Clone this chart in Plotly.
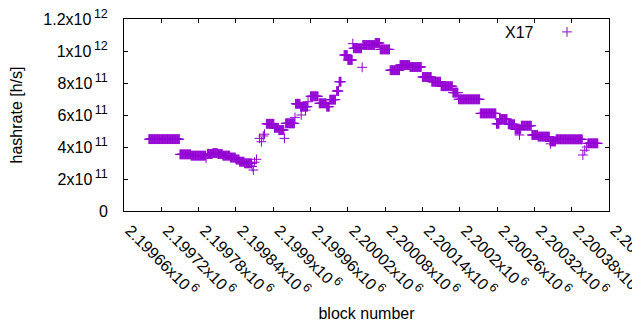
import plotly.graph_objects as go

# Plateaus of the hashrate: first block, last block, hashrate [h/s]
seg_first = [2199700, 2199750, 2199768, 2199794, 2199803, 2199811, 2199819, 2199831,
             2199840, 2199846, 2199854, 2199889, 2199902, 2199909, 2199920, 2199936,
             2199944, 2199960, 2199974, 2199986, 2199991, 2200002, 2200006, 2200014,
             2200020, 2200029, 2200044, 2200064, 2200072, 2200088, 2200104, 2200120,
             2200140, 2200155, 2200170, 2200189, 2200198, 2200233, 2200259, 2200264,
             2200278, 2200289, 2200299, 2200316, 2200326, 2200345, 2200355, 2200406]
seg_last = [2199749, 2199767, 2199791, 2199802, 2199810, 2199818, 2199830, 2199839,
            2199845, 2199853, 2199865, 2199901, 2199908, 2199917, 2199934, 2199943,
            2199955, 2199972, 2199985, 2199990, 2200000, 2200005, 2200009, 2200019,
            2200027, 2200042, 2200063, 2200071, 2200087, 2200103, 2200119, 2200138,
            2200154, 2200169, 2200188, 2200197, 2200232, 2200258, 2200263, 2200276,
            2200288, 2200298, 2200315, 2200325, 2200344, 2200354, 2200397, 2200422]
seg_rate = [4.49e11, 3.54e11, 3.46e11, 3.57e11, 3.62e11, 3.56e11, 3.46e11, 3.34e11,
            3.22e11, 3.08e11, 2.98e11, 5.45e11, 5.20e11, 5.06e11, 5.48e11, 6.70e11,
            6.52e11, 7.17e11, 6.73e11, 6.52e11, 6.96e11, 7.50e11, 8.08e11, 9.75e11,
            9.44e11, 1.017e12, 1.0375e12, 1.05e12, 1.01e12, 8.80e11, 9.125e11, 9.00e11,
            8.375e11, 8.08e11, 7.80e11, 7.40e11, 6.98e11, 6.10e11, 5.45e11, 5.75e11,
            5.42e11, 5.10e11, 5.33e11, 4.75e11, 4.65e11, 4.35e11, 4.48e11, 4.23e11]

# Isolated blocks
single_block = [2199792, 2199866, 2199868, 2199870, 2199873, 2199878, 2199881, 2199884,
                2199886, 2199918, 2199935, 2199945, 2199952, 2199956, 2200028, 2200043,
                2200296, 2200346, 2200398, 2200401, 2200404]
single_rate = [3.30e11, 2.78e11, 2.56e11, 3.05e11, 3.23e11, 4.54e11, 4.33e11, 4.69e11,
               4.80e11, 4.54e11, 5.85e11, 6.00e11, 6.30e11, 6.83e11, 1.046e12, 8.98e11,
               4.75e11, 4.20e11, 3.50e11, 3.80e11, 4.00e11]

SUP = "<sup><span style='font-size:12.5px'>\u2009{}</span></sup>"
x_tick_vals = [2199660, 2199720, 2199780, 2199840, 2199900, 2199960, 2200020,
               2200080, 2200140, 2200200, 2200260, 2200320, 2200380, 2200440]
x_tick_mant = ["2.19966", "2.19972", "2.19978", "2.19984", "2.1999", "2.19996", "2.20002",
               "2.20008", "2.20014", "2.2002", "2.20026", "2.20032", "2.20038", "2.20044"]
x_tick_text = [m + "x10" + SUP.format("6") for m in x_tick_mant]
y_tick_vals = [0, 2e11, 4e11, 6e11, 8e11, 1e12, 1.2e12]
y_tick_text = ["0", "2x10" + SUP.format("11"), "4x10" + SUP.format("11"),
               "6x10" + SUP.format("11"), "8x10" + SUP.format("11"),
               "1x10" + SUP.format("12"), "1.2x10" + SUP.format("12")]

pts = []
for a, b, v in zip(seg_first, seg_last, seg_rate):
    for blk in range(a, b + 1):
        pts.append((blk, v))
pts += list(zip(single_block, single_rate))
pts.sort()
xs = [p[0] for p in pts]
ys = [p[1] for p in pts]

COLOR = "#9400d3"
FONT = "Liberation Sans"

fig = go.Figure()
fig.add_trace(go.Scatter(
    x=xs, y=ys, mode="markers", name="X17", showlegend=False,
    marker=dict(symbol="cross-thin", size=7, line=dict(width=1, color=COLOR), color=COLOR),
))
# legend sample
fig.add_trace(go.Scatter(
    x=[None], y=[None], mode="markers", name="", showlegend=True,
    marker=dict(symbol="cross-thin", size=7, line=dict(width=1, color=COLOR), color=COLOR),
))

axis_common = dict(
    showline=True, linecolor="black", linewidth=1, mirror="ticks",
    ticks="inside", ticklen=4, tickcolor="black", showgrid=False, zeroline=False,
    automargin=False, ticklabeloverflow="allow",
    tickfont=dict(family=FONT, size=16, color="black"),
)
fig.update_xaxes(range=[2199660, 2200440], tickmode="array", tickvals=x_tick_vals,
                 ticktext=x_tick_text, tickangle=45, ticklabelstandoff=3, ticklabelshift=6,
                 title=dict(text="block number", font=dict(family=FONT, size=16, color="black"),
                            standoff=8),
                 **axis_common)
fig.update_yaxes(range=[0, 1.2e12], tickmode="array", tickvals=y_tick_vals,
                 ticktext=y_tick_text, ticklabelstandoff=12,
                 title=dict(text="hashrate [h/s]", font=dict(family=FONT, size=16, color="black"),
                            standoff=23),
                 **axis_common)

# plot area in page pixels: x 124..609, y 19..211 (page body has an 8px margin)
fig.add_annotation(text="X17", xref="paper", yref="paper", x=(536 - 124) / 485,
                   y=(211 - 32) / 192, xanchor="right", yanchor="middle", showarrow=False,
                   font=dict(family=FONT, size=16, color="black"))

fig.update_layout(
    width=632, height=322,
    margin=dict(l=116, r=31, t=11, b=119, autoexpand=False),
    paper_bgcolor="white", plot_bgcolor="white",
    legend=dict(x=(547 - 124) / 485, y=(211 - 32) / 192, xanchor="left", yanchor="middle",
                bgcolor="rgba(0,0,0,0)", font=dict(family=FONT, size=16)),
)
fig.write_html("out.html")
